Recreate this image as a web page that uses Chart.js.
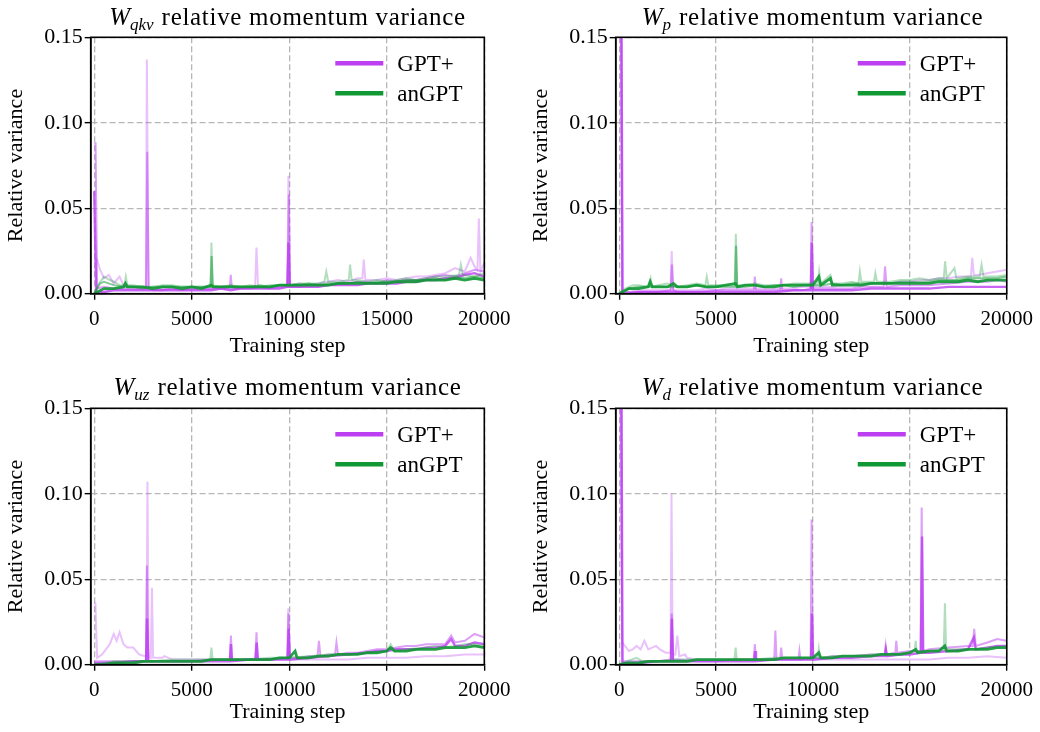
<!DOCTYPE html>
<html>
<head>
<meta charset="utf-8">
<script src="https://cdn.jsdelivr.net/npm/chart.js@4/dist/chart.umd.min.js"></script>
<style>
  html, body { margin: 0; padding: 0; background: #fff; }
  #wrap { position: relative; width: 1040px; height: 732px; overflow: hidden; }
  canvas { position: absolute; }
  .title {
    position: absolute; text-align: center; white-space: nowrap;
    font-family: "Liberation Serif", serif; font-size: 25px; line-height: 24px;
    letter-spacing: 0.7px; color: #000;
  }
  .title i { letter-spacing: 0; }
  .title .sub { font-size: 17px; position: relative; top: 5px; font-style: italic; letter-spacing: 0; margin-right: 8px; }
</style>
</head>
<body>
<div id="wrap">
  <canvas id="c1" width="520" height="366" style="left:0;top:0"></canvas>
  <canvas id="c2" width="520" height="366" style="left:520px;top:0"></canvas>
  <canvas id="c3" width="520" height="366" style="left:0;top:366px"></canvas>
  <canvas id="c4" width="520" height="366" style="left:520px;top:366px"></canvas>
  <div class="title" style="left:90px;top:5px;width:395px"><i>W</i><span class="sub">qkv</span>relative momentum variance</div>
  <div class="title" style="left:616px;top:5px;width:393px"><i>W</i><span class="sub">p</span>relative momentum variance</div>
  <div class="title" style="left:90px;top:375px;width:395px"><i>W</i><span class="sub">uz</span>relative momentum variance</div>
  <div class="title" style="left:616px;top:375px;width:393px"><i>W</i><span class="sub">d</span>relative momentum variance</div>
</div>
<script>
// axis ticks and legend labels
const xTicks = [0, 5000, 10000, 15000, 20000];
const yTicks = [0, 0.05, 0.10, 0.15];
const seriesNames = ['GPT+', 'anGPT'];

// ---- W_qkv ----
const qkvGptLight = [[0,0.020],[150,0.020],[300,0.014],[500,0.009],[750,0.011],[1000,0.006],[1300,0.010],[1500,0.005],[2000,0.004],[2500,0.003],[2650,0.004],[2700,0.137],[2780,0.004],[3000,0.003],[3500,0.003],[4000,0.003],[4500,0.003],[5000,0.003],[5500,0.003],[6000,0.003],[6500,0.004],[7000,0.004],[7500,0.003],[8000,0.004],[8250,0.004],[8320,0.027],[8400,0.004],[8500,0.004],[9000,0.004],[9500,0.004],[9900,0.005],[9960,0.069],[10030,0.005],[10500,0.006],[11000,0.005],[11500,0.006],[12000,0.007],[12500,0.008],[13000,0.007],[13500,0.009],[13750,0.009],[13820,0.020],[13900,0.008],[14500,0.008],[15000,0.009],[15500,0.008],[16000,0.009],[16500,0.010],[17000,0.010],[17500,0.011],[18000,0.012],[18500,0.015],[19000,0.013],[19300,0.021],[19500,0.016],[19650,0.014],[19720,0.044],[19800,0.013],[20000,0.018]];
const qkvGptMid = [[0,0.088],[70,0.088],[150,0.003],[500,0.004],[1000,0.003],[1500,0.003],[2000,0.003],[2500,0.003],[2660,0.003],[2720,0.083],[2790,0.003],[3000,0.002],[3500,0.002],[4000,0.003],[4500,0.002],[5000,0.003],[5500,0.003],[6000,0.003],[6500,0.003],[6950,0.003],[7000,0.011],[7060,0.003],[7500,0.003],[8000,0.003],[8500,0.004],[9000,0.003],[9500,0.004],[9920,0.004],[9980,0.058],[10040,0.004],[10500,0.004],[11000,0.005],[11500,0.005],[12000,0.005],[12500,0.006],[13000,0.006],[13500,0.007],[14000,0.007],[14500,0.006],[15000,0.008],[15500,0.007],[16000,0.008],[16500,0.008],[17000,0.009],[17500,0.010],[18000,0.011],[18500,0.010],[19000,0.012],[19500,0.014],[20000,0.013]];
const qkvGptStrong = [[0,0.060],[100,0.001],[500,0.001],[1000,0.002],[1500,0.002],[2000,0.002],[2500,0.002],[3000,0.002],[3500,0.002],[4000,0.002],[4500,0.002],[5000,0.002],[5500,0.002],[6000,0.002],[6500,0.003],[7000,0.002],[7500,0.003],[8000,0.003],[8500,0.003],[9000,0.003],[9500,0.003],[9900,0.004],[9960,0.030],[10020,0.004],[10500,0.004],[11000,0.004],[11500,0.004],[12000,0.005],[12500,0.005],[13000,0.005],[13500,0.005],[14000,0.006],[14500,0.006],[15000,0.006],[15500,0.006],[16000,0.007],[16500,0.007],[17000,0.008],[17500,0.008],[18000,0.009],[18500,0.009],[19000,0.011],[19500,0.012],[20000,0.010]];
const qkvAnLight = [[0,0.000],[250,0.006],[500,0.010],[800,0.008],[1000,0.007],[1300,0.005],[1550,0.005],[1620,0.010],[1700,0.005],[2000,0.005],[2500,0.004],[3000,0.004],[3500,0.005],[4000,0.005],[4500,0.004],[5000,0.004],[5500,0.004],[5960,0.004],[6010,0.030],[6070,0.005],[6500,0.004],[7000,0.004],[7500,0.004],[8000,0.005],[8500,0.004],[9000,0.005],[9500,0.005],[10000,0.005],[10500,0.006],[11000,0.006],[11500,0.006],[11800,0.007],[11900,0.013],[12000,0.007],[12500,0.007],[13050,0.008],[13120,0.017],[13200,0.008],[13500,0.008],[14000,0.007],[14500,0.008],[15000,0.007],[15500,0.008],[16000,0.009],[16500,0.008],[17000,0.009],[17500,0.010],[18000,0.010],[18700,0.011],[18800,0.017],[18900,0.011],[19500,0.010],[20000,0.012]];
const qkvAnMid = [[0,0.000],[300,0.006],[500,0.007],[1000,0.005],[1500,0.004],[2000,0.004],[2500,0.003],[3000,0.004],[3500,0.004],[4000,0.004],[4500,0.004],[5000,0.004],[5500,0.004],[5970,0.004],[6020,0.022],[6080,0.004],[6500,0.004],[7000,0.005],[7500,0.004],[8000,0.004],[8500,0.005],[9000,0.004],[9500,0.005],[10000,0.005],[10500,0.005],[11000,0.006],[11500,0.005],[12000,0.006],[12500,0.006],[13000,0.006],[13500,0.007],[14000,0.006],[14500,0.007],[15000,0.007],[15500,0.007],[16000,0.008],[16500,0.008],[17000,0.008],[17500,0.009],[18000,0.008],[18500,0.010],[19000,0.009],[19500,0.010],[20000,0.009]];
const qkvAnStrong = [[0,0.000],[500,0.003],[1000,0.003],[1500,0.004],[1600,0.006],[1700,0.004],[2000,0.004],[2500,0.004],[3000,0.003],[3500,0.004],[4000,0.004],[4500,0.003],[5000,0.004],[5500,0.003],[6000,0.005],[6100,0.004],[6500,0.004],[7000,0.004],[7500,0.004],[8000,0.004],[8500,0.004],[9000,0.004],[9500,0.005],[10000,0.005],[10500,0.005],[11000,0.005],[11500,0.005],[12000,0.005],[12500,0.006],[13000,0.006],[13500,0.006],[14000,0.006],[14500,0.006],[15000,0.006],[15500,0.007],[16000,0.007],[16500,0.007],[17000,0.008],[17500,0.008],[18000,0.008],[18500,0.009],[19000,0.008],[19500,0.009],[20000,0.008]];

// ---- W_p ----
const pGptLight = [[0,0.16],[80,0.16],[150,0.001],[500,0.001],[1000,0.002],[1500,0.002],[2000,0.002],[2500,0.002],[2650,0.002],[2710,0.025],[2780,0.002],[3000,0.002],[3500,0.002],[4000,0.002],[4500,0.003],[5000,0.002],[5500,0.003],[6000,0.003],[6500,0.003],[7000,0.003],[7500,0.003],[8000,0.003],[8500,0.003],[9000,0.003],[9500,0.004],[10000,0.004],[10500,0.004],[11000,0.004],[11500,0.005],[12000,0.005],[12500,0.005],[13000,0.006],[13500,0.006],[14000,0.006],[14500,0.007],[15000,0.007],[15500,0.008],[16000,0.008],[16500,0.009],[17000,0.009],[17500,0.010],[18000,0.010],[18150,0.010],[18220,0.021],[18300,0.011],[18500,0.011],[19000,0.012],[19500,0.013],[20000,0.014]];
const pGptMid = [[0,0.16],[100,0.16],[170,0.001],[500,0.001],[1000,0.001],[2000,0.001],[2660,0.002],[2720,0.017],[2790,0.002],[3000,0.001],[4000,0.001],[5000,0.002],[6000,0.002],[6950,0.002],[7000,0.010],[7060,0.002],[8000,0.002],[8300,0.002],[8360,0.009],[8420,0.002],[9000,0.002],[9500,0.002],[9880,0.003],[9930,0.042],[9990,0.003],[10500,0.003],[11000,0.003],[12000,0.003],[12500,0.004],[13000,0.004],[13650,0.004],[13720,0.016],[13800,0.004],[14500,0.005],[15000,0.005],[16000,0.005],[17000,0.006],[18000,0.007],[19000,0.007],[19500,0.008],[20000,0.007]];
const pGptStrong = [[0,0.16],[120,0.16],[170,0.000],[500,0.000],[1000,0.001],[2000,0.001],[3000,0.001],[4000,0.001],[5000,0.001],[6000,0.001],[7000,0.001],[8000,0.001],[9000,0.002],[9890,0.002],[9940,0.030],[10000,0.002],[11000,0.002],[12000,0.002],[13000,0.003],[14000,0.003],[15000,0.003],[16000,0.003],[17000,0.004],[18000,0.004],[19000,0.004],[20000,0.004]];
const pAnLight = [[0,0.000],[300,0.003],[700,0.005],[1000,0.005],[1500,0.004],[1620,0.009],[1700,0.004],[2000,0.005],[2500,0.006],[3000,0.004],[3500,0.005],[4000,0.006],[4450,0.005],[4520,0.010],[4600,0.005],[5000,0.005],[5500,0.005],[5960,0.005],[6020,0.035],[6080,0.005],[6500,0.005],[7000,0.006],[7500,0.005],[8000,0.005],[8500,0.005],[9000,0.006],[9500,0.006],[10000,0.006],[10250,0.006],[10320,0.013],[10400,0.006],[10900,0.011],[11000,0.006],[11500,0.006],[12000,0.007],[12350,0.006],[12420,0.013],[12500,0.007],[13150,0.007],[13220,0.012],[13300,0.007],[14000,0.007],[14500,0.008],[15000,0.008],[15500,0.009],[16000,0.008],[16500,0.009],[16750,0.009],[16820,0.019],[16900,0.009],[17300,0.015],[17400,0.009],[18000,0.010],[18600,0.010],[18700,0.017],[18800,0.010],[19500,0.010],[20000,0.011]];
const pAnMid = [[0,0.000],[500,0.003],[1000,0.004],[1500,0.004],[2000,0.004],[2500,0.004],[3000,0.004],[3500,0.004],[4000,0.005],[4500,0.004],[5000,0.004],[5500,0.004],[5980,0.004],[6030,0.028],[6090,0.004],[6500,0.004],[7000,0.005],[7500,0.004],[8000,0.005],[8500,0.005],[9000,0.004],[9500,0.005],[10000,0.005],[10500,0.005],[11000,0.006],[11500,0.005],[12000,0.006],[12500,0.006],[13000,0.006],[13500,0.006],[14000,0.006],[14500,0.007],[15000,0.007],[15500,0.007],[16000,0.007],[16500,0.008],[17000,0.008],[17500,0.008],[18000,0.009],[18500,0.009],[19000,0.009],[19500,0.009],[20000,0.010]];
const pAnStrong = [[0,0.000],[500,0.003],[1000,0.003],[1500,0.004],[1600,0.007],[1700,0.004],[2000,0.004],[2500,0.004],[2800,0.006],[3000,0.004],[3500,0.004],[4000,0.005],[4500,0.004],[5000,0.004],[5500,0.005],[6000,0.006],[6100,0.004],[6500,0.005],[7000,0.005],[7500,0.004],[8000,0.004],[8500,0.005],[9000,0.005],[9500,0.005],[10000,0.005],[10300,0.010],[10400,0.005],[10900,0.009],[11000,0.005],[11500,0.005],[12000,0.005],[12500,0.005],[13000,0.006],[13500,0.006],[14000,0.006],[14500,0.006],[15000,0.006],[15500,0.006],[16000,0.006],[16500,0.007],[17000,0.007],[17500,0.007],[18000,0.008],[18500,0.007],[19000,0.008],[19500,0.008],[20000,0.008]];

// ---- W_uz ----
const uzGptLight = [[0,0.036],[60,0.036],[150,0.004],[400,0.006],[600,0.009],[800,0.012],[1000,0.018],[1150,0.014],[1300,0.019],[1500,0.012],[1700,0.010],[2000,0.010],[2300,0.006],[2600,0.005],[2680,0.005],[2730,0.107],[2790,0.005],[2900,0.004],[2960,0.045],[3020,0.004],[3500,0.004],[3600,0.005],[4000,0.003],[5000,0.003],[6000,0.003],[7000,0.003],[8000,0.003],[9000,0.003],[9900,0.003],[9950,0.033],[10010,0.003],[11000,0.003],[12000,0.003],[13000,0.003],[14000,0.004],[15000,0.004],[16000,0.004],[17000,0.005],[18000,0.005],[19000,0.006],[20000,0.006]];
const uzGptMid = [[0,0.002],[500,0.002],[1000,0.002],[2000,0.002],[2650,0.002],[2700,0.058],[2770,0.002],[3000,0.002],[4000,0.002],[5000,0.002],[6000,0.003],[6950,0.003],[7010,0.017],[7070,0.003],[8000,0.003],[8260,0.003],[8320,0.019],[8380,0.003],[9000,0.003],[9900,0.004],[9960,0.030],[10020,0.004],[10500,0.004],[11000,0.005],[11450,0.005],[11520,0.014],[11600,0.005],[12000,0.006],[12350,0.006],[12420,0.013],[12500,0.006],[13000,0.007],[13500,0.007],[14000,0.008],[14500,0.009],[15000,0.009],[15500,0.010],[16000,0.011],[16500,0.011],[17000,0.012],[17500,0.012],[18000,0.012],[18300,0.017],[18500,0.013],[19000,0.014],[19500,0.018],[20000,0.016]];
const uzGptStrong = [[0,0.001],[500,0.001],[1000,0.001],[2000,0.002],[2660,0.002],[2710,0.027],[2770,0.002],[3000,0.002],[4000,0.002],[5000,0.002],[6000,0.002],[6960,0.002],[7010,0.012],[7060,0.002],[8000,0.003],[8270,0.003],[8330,0.013],[8390,0.003],[9000,0.003],[9920,0.003],[9970,0.021],[10030,0.003],[11000,0.004],[12000,0.005],[13000,0.006],[14000,0.007],[14500,0.008],[15000,0.008],[15500,0.009],[16000,0.009],[16500,0.009],[17000,0.010],[17500,0.010],[18000,0.011],[18300,0.015],[18500,0.011],[19000,0.011],[19500,0.013],[20000,0.012]];
const uzAnLight = [[0,0.000],[500,0.001],[1000,0.002],[2000,0.002],[3000,0.002],[4000,0.003],[5000,0.003],[5950,0.003],[6010,0.010],[6070,0.003],[7000,0.003],[8000,0.003],[9000,0.004],[10000,0.004],[11000,0.005],[12000,0.006],[13000,0.006],[14000,0.007],[15000,0.008],[15200,0.012],[15400,0.008],[16000,0.009],[17000,0.010],[17500,0.011],[18000,0.010],[18500,0.011],[19000,0.012],[19500,0.012],[20000,0.011]];
const uzAnStrong = [[0,0.000],[500,0.000],[1000,0.001],[1500,0.001],[2000,0.001],[2500,0.002],[3000,0.002],[3500,0.002],[4000,0.002],[4500,0.002],[5000,0.002],[5500,0.002],[6000,0.003],[6500,0.003],[7000,0.003],[7500,0.003],[8000,0.003],[8500,0.003],[9000,0.003],[9500,0.004],[10000,0.004],[10300,0.008],[10400,0.004],[10500,0.004],[11000,0.004],[11500,0.005],[12000,0.005],[12500,0.006],[13000,0.006],[13500,0.006],[14000,0.007],[14500,0.007],[15000,0.008],[15200,0.010],[15400,0.008],[15500,0.008],[16000,0.008],[16500,0.009],[17000,0.009],[17500,0.009],[18000,0.010],[18500,0.010],[19000,0.010],[19500,0.011],[20000,0.010]];

// ---- W_d ----
const dGptLight = [[0,0.16],[60,0.16],[150,0.013],[300,0.011],[500,0.008],[700,0.009],[900,0.011],[1100,0.009],[1300,0.014],[1500,0.009],[1700,0.010],[1900,0.011],[2100,0.009],[2400,0.007],[2650,0.007],[2700,0.100],[2760,0.006],[2900,0.006],[3000,0.017],[3100,0.005],[3400,0.006],[3500,0.004],[4000,0.003],[5000,0.003],[6000,0.003],[7000,0.003],[8000,0.003],[9000,0.003],[10000,0.003],[11000,0.003],[12000,0.003],[13000,0.003],[14000,0.003],[15000,0.003],[16000,0.003],[17000,0.004],[18000,0.004],[19000,0.005],[20000,0.004]];
const dGptMid = [[0,0.16],[100,0.16],[160,0.002],[500,0.002],[1000,0.002],[2000,0.002],[2660,0.003],[2710,0.030],[2770,0.003],[3000,0.003],[4000,0.002],[5000,0.002],[6000,0.003],[6950,0.003],[7000,0.012],[7060,0.003],[8000,0.003],[8060,0.020],[8120,0.003],[8300,0.003],[8360,0.010],[8420,0.003],[9000,0.003],[9250,0.003],[9300,0.008],[9350,0.003],[9880,0.004],[9930,0.085],[9990,0.004],[10500,0.004],[11000,0.005],[12000,0.005],[13000,0.006],[13700,0.006],[13750,0.011],[13800,0.006],[14250,0.007],[14300,0.014],[14350,0.007],[15000,0.008],[15550,0.008],[15610,0.092],[15670,0.008],[16000,0.009],[17000,0.010],[18000,0.011],[18250,0.011],[18320,0.021],[18400,0.011],[19000,0.013],[19500,0.015],[20000,0.014]];
const dGptStrong = [[0,0.16],[120,0.16],[170,0.001],[500,0.001],[1000,0.001],[2000,0.002],[2670,0.002],[2720,0.027],[2780,0.002],[3000,0.002],[4000,0.002],[5000,0.002],[6000,0.002],[6960,0.002],[7010,0.008],[7060,0.002],[8000,0.003],[9000,0.003],[9900,0.003],[9950,0.030],[10010,0.003],[11000,0.004],[12000,0.004],[13000,0.005],[13700,0.005],[13760,0.009],[13820,0.005],[14500,0.006],[15000,0.006],[15570,0.007],[15630,0.075],[15690,0.007],[16000,0.007],[17000,0.008],[18000,0.009],[18300,0.016],[18400,0.009],[19000,0.010],[19500,0.011],[20000,0.011]];
const dAnLight = [[0,0.000],[400,0.002],[900,0.004],[1200,0.002],[2000,0.002],[3000,0.003],[4000,0.003],[5000,0.003],[5950,0.003],[6010,0.010],[6070,0.003],[7000,0.003],[8000,0.004],[9000,0.004],[10000,0.004],[10250,0.004],[10300,0.009],[10350,0.004],[11000,0.005],[12000,0.005],[13000,0.006],[14000,0.006],[15000,0.007],[15250,0.008],[15300,0.014],[15350,0.008],[16000,0.008],[16750,0.009],[16810,0.036],[16870,0.009],[17500,0.009],[18000,0.009],[19000,0.010],[20000,0.011]];
const dAnStrong = [[0,0.000],[500,0.001],[1000,0.001],[1500,0.002],[2000,0.002],[2500,0.002],[3000,0.002],[3500,0.002],[4000,0.003],[4500,0.003],[5000,0.003],[5500,0.003],[6000,0.003],[6500,0.003],[7000,0.003],[7500,0.003],[8000,0.003],[8500,0.004],[9000,0.004],[9500,0.004],[10000,0.004],[10300,0.007],[10400,0.004],[11000,0.004],[11500,0.005],[12000,0.005],[12500,0.005],[13000,0.005],[13500,0.006],[14000,0.006],[14500,0.006],[15000,0.007],[15300,0.009],[15400,0.007],[16000,0.008],[16500,0.008],[16800,0.011],[16900,0.008],[17500,0.008],[18000,0.009],[18500,0.009],[19000,0.009],[19500,0.010],[20000,0.010]];

const PURPLE = [188, 63, 242];
const GREEN = [16, 152, 52];
const rgba = (c, a) => `rgba(${c[0]},${c[1]},${c[2]},${a})`;

// line looks: [alpha, width]
const looks = { light: [0.32, 2.0], mid: [0.5, 2.0], strong: [0.8, 2.4], anStrong: [0.9, 2.8] };

function line(pts, color, look) {
    const [a, w] = looks[look];
    return {
        data: pts.map(p => ({ x: p[0], y: p[1] })),
        borderColor: rgba(color, a),
        borderWidth: w,
        pointRadius: 0,
        tension: 0,
        fill: false,
        clip: 0
    };
}

// box around the plot + legend drawn inside the axes
const framePlugin = {
    id: 'frame',
    afterDraw(chart) {
        const { ctx, chartArea: a } = chart;
        ctx.save();
        ctx.strokeStyle = '#000';
        ctx.lineWidth = 1.6;
        ctx.strokeRect(a.left, a.top, a.right - a.left, a.bottom - a.top);
        const colors = [PURPLE, GREEN];
        seriesNames.forEach((name, i) => {
            const y = a.top + 26 + i * 30;
            ctx.strokeStyle = rgba(colors[i], 1);
            ctx.lineWidth = 4.5;
            ctx.beginPath();
            ctx.moveTo(a.right - 149, y);
            ctx.lineTo(a.right - 101, y);
            ctx.stroke();
            ctx.fillStyle = '#000';
            ctx.font = '23px "Liberation Serif"';
            ctx.textBaseline = 'alphabetic';
            ctx.fillText(name, a.right - 87, y + 8);
        });
        ctx.restore();
    }
};

function makePanel(id, g, datasets) {
    new Chart(document.getElementById(id), {
        type: 'line',
        data: { datasets },
        plugins: [framePlugin],
        options: {
            responsive: false,
            animation: false,
            devicePixelRatio: 1,
            layout: { padding: { top: g.top, right: 520 - g.right, bottom: 0, left: 0 } },
            plugins: { legend: { display: false }, tooltip: { enabled: false } },
            scales: {
                x: {
                    type: 'linear', min: -180, max: 20000,
                    afterBuildTicks: s => { s.ticks = xTicks.map(v => ({ value: v })); },
                    afterFit: s => { s.height = 366 - g.bottom; },
                    ticks: { color: '#000', font: { family: 'Liberation Serif', size: 21 }, padding: 7, maxRotation: 0, callback: v => String(v) },
                    grid: { color: 'rgba(175,175,175,0.9)', lineWidth: 1.3, tickColor: '#000', tickWidth: 1.4, tickLength: 6 },
                    border: { display: true, color: '#000', width: 1.6, dash: [6, 3] },
                    title: { display: true, text: 'Training step', color: '#000', font: { family: 'Liberation Serif', size: 22 }, padding: { top: 0, bottom: 7 } }
                },
                y: {
                    type: 'linear', min: 0, max: 0.15,
                    afterBuildTicks: s => { s.ticks = yTicks.map(v => ({ value: v })); },
                    afterFit: s => { s.width = g.left; },
                    ticks: { color: '#000', font: { family: 'Liberation Serif', size: 22 }, padding: 2, callback: v => v.toFixed(2) },
                    grid: { color: 'rgba(175,175,175,0.9)', lineWidth: 1.3, tickColor: '#000', tickWidth: 1.4, tickLength: 6 },
                    border: { display: true, color: '#000', width: 1.6, dash: [6, 3] },
                    title: { display: true, text: 'Relative variance', color: '#000', font: { family: 'Liberation Serif', size: 22 }, padding: { top: g.ylab, bottom: 0 } }
                }
            }
        }
    });
}

makePanel('c1', { left: 90.7, right: 484.3, top: 37.3, bottom: 293.7, ylab: 3 }, [
    line(qkvAnStrong, GREEN, 'anStrong'), line(qkvAnMid, GREEN, 'mid'), line(qkvAnLight, GREEN, 'light'),
    line(qkvGptStrong, PURPLE, 'strong'), line(qkvGptMid, PURPLE, 'mid'), line(qkvGptLight, PURPLE, 'light')
]);
makePanel('c2', { left: 95.7, right: 488.7, top: 37.3, bottom: 293.7, ylab: 8 }, [
    line(pAnStrong, GREEN, 'anStrong'), line(pAnMid, GREEN, 'mid'), line(pAnLight, GREEN, 'light'),
    line(pGptStrong, PURPLE, 'strong'), line(pGptMid, PURPLE, 'mid'), line(pGptLight, PURPLE, 'light')
]);
makePanel('c3', { left: 90.7, right: 484.3, top: 42.3, bottom: 298.7, ylab: 3 }, [
    line(uzAnStrong, GREEN, 'anStrong'), line(uzAnLight, GREEN, 'light'),
    line(uzGptStrong, PURPLE, 'strong'), line(uzGptMid, PURPLE, 'mid'), line(uzGptLight, PURPLE, 'light')
]);
makePanel('c4', { left: 95.7, right: 488.7, top: 42.3, bottom: 298.7, ylab: 8 }, [
    line(dAnStrong, GREEN, 'anStrong'), line(dAnLight, GREEN, 'light'),
    line(dGptStrong, PURPLE, 'strong'), line(dGptMid, PURPLE, 'mid'), line(dGptLight, PURPLE, 'light')
]);
</script>
</body>
</html>
